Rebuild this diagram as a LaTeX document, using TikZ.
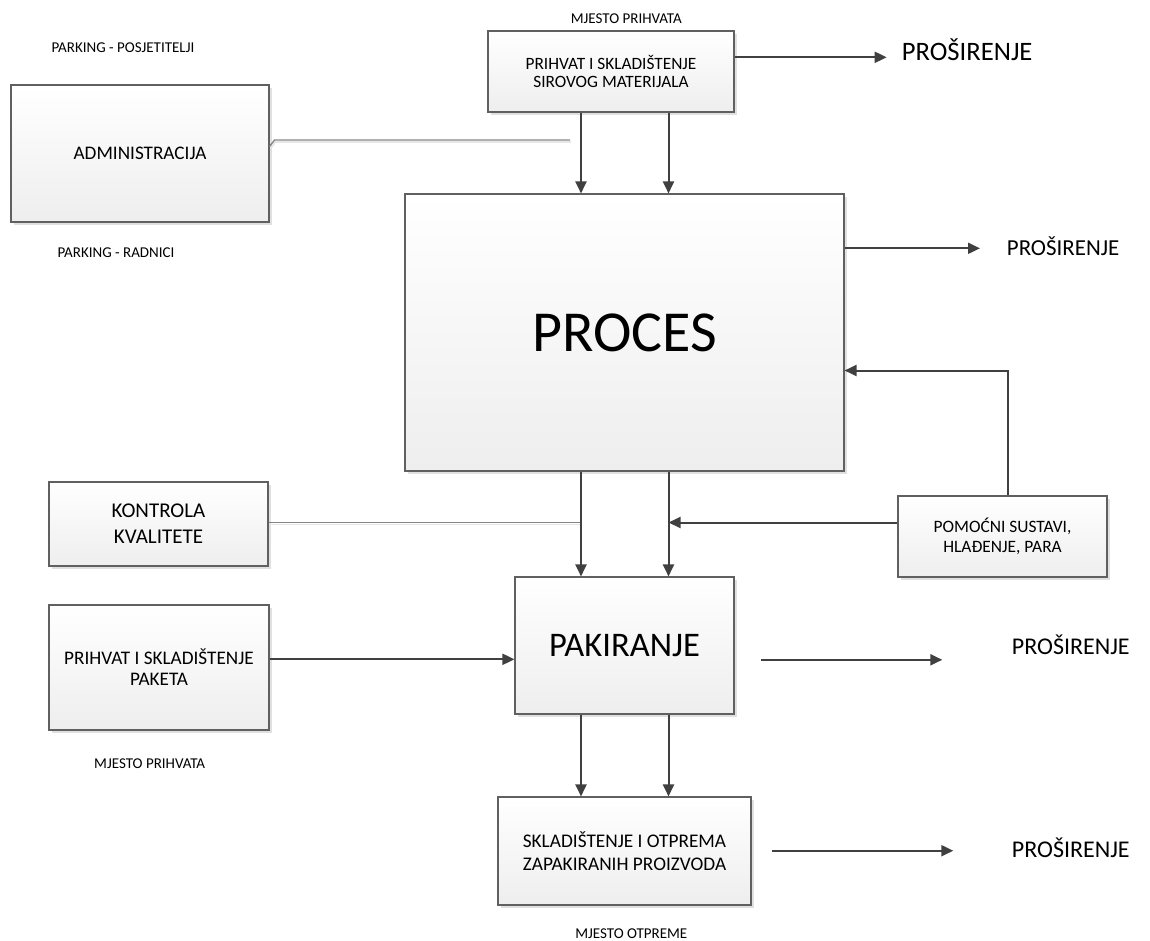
\documentclass[tikz,border=0pt]{standalone}
\usepackage{fontspec}
\setmainfont{Carlito}
\usetikzlibrary{arrows.meta,shadows}
\definecolor{arrgray}{HTML}{404040}
\definecolor{boxline}{HTML}{606060}
\definecolor{thingray}{HTML}{858585}
\definecolor{shadegray}{HTML}{E6E6E6}
\definecolor{boxbottom}{HTML}{EEEEEE}
\tikzset{
  box/.style={draw=boxline, line width=1.1pt, top color=white, bottom color=boxbottom,
    inner sep=2pt, align=center,
    drop shadow={shadow xshift=3pt, shadow yshift=-3pt, fill=black!12, opacity=1}},
  arr/.style={draw=arrgray, line width=2pt, -{Triangle[length=12pt,width=11pt]}},
  conn/.style={draw=thingray, line width=1.4pt},
  connshadow/.style={draw=shadegray, line width=1.6pt, transform canvas={xshift=1pt,yshift=-2pt}},
  lbl/.style={inner sep=0pt, anchor=base, font=\fontsize{15}{18}\selectfont},
  ext/.style={inner sep=0pt, anchor=base west},
}
\begin{document}
\begin{tikzpicture}[x=1pt,y=-1pt]
\useasboundingbox (0,0) rectangle (1150,940);

% boxes
\node[box, minimum width=246pt, minimum height=81pt, font=\fontsize{17.3}{18.4}\selectfont] (raw) at (611,71.5) {PRIHVAT I SKLADIŠTENJE\\SIROVOG MATERIJALA};
\node[box, minimum width=258pt, minimum height=137pt, font=\fontsize{19.2}{23}\selectfont] (admin) at (140,153.5) {ADMINISTRACIJA};
\node[box, minimum width=439pt, minimum height=277pt, font=\fontsize{58}{64}\selectfont] (proces) at (624.5,332.5) {PROCES};
\node[box, minimum width=219pt, minimum height=84pt, font=\fontsize{21}{26}\selectfont] (kontrola) at (158.5,524) {KONTROLA\\KVALITETE};
\node[box, minimum width=209pt, minimum height=81pt, font=\fontsize{17.4}{20}\selectfont] (pomocni) at (1002.5,536.5) {POMOĆNI SUSTAVI,\\HLAĐENJE, PARA};
\node[box, minimum width=219pt, minimum height=137pt, font=\fontsize{34.5}{40}\selectfont] (pakiranje) at (624.5,645.5) {PAKIRANJE};
\node[box, minimum width=220pt, minimum height=125pt, font=\fontsize{19.2}{21}\selectfont] (paketa) at (159,667.5) {PRIHVAT I SKLADIŠTENJE\\PAKETA};
\node[box, minimum width=253pt, minimum height=108pt, font=\fontsize{19.3}{23.3}\selectfont] (otprema) at (624.5,851) {SKLADIŠTENJE I OTPREMA\\ZAPAKIRANIH PROIZVODA};

% labels
\node[lbl] (lmp1) at (626.3,23.1) {MJESTO PRIHVATA};
\node[lbl] (lpp) at (123,52.8) {PARKING - POSJETITELJI};
\node[lbl] (lpr) at (116,257.8) {PARKING - RADNICI};
\node[lbl] (lmp2) at (149.7,768.1) {MJESTO PRIHVATA};
\node[lbl] (lmo) at (631.3,938.1) {MJESTO OTPREME};

\node[ext, font=\fontsize{26.6}{30}\selectfont] (pros1) at (901.7,60.3) {PROŠIRENJE};
\node[ext, font=\fontsize{22.9}{26}\selectfont] (pros2) at (1006.7,255.7) {PROŠIRENJE};
\node[ext, font=\fontsize{24}{28}\selectfont] (pros3) at (1011.7,654.4) {PROŠIRENJE};
\node[ext, font=\fontsize{24}{28}\selectfont] (pros4) at (1011.7,857.7) {PROŠIRENJE};

% helper coordinates
\coordinate (colA) at (581,0);
\coordinate (colB) at (668.5,0);
\coordinate (colC) at (1008.3,0);
\coordinate (rowA) at (0,146.5);
\coordinate (rowP) at (0,370.5);
\coordinate (rowQ) at (0,522.5);
\coordinate (rowR) at (0,659.3);
\coordinate (rowT) at (0,57.3);
\coordinate (rowU) at (0,248.3);
\coordinate (aend) at (570,140);
\coordinate (e1) at (886.7,57.3);
\coordinate (e2) at (980,248.3);
\coordinate (s3) at (761,659.8);
\coordinate (e3) at (942.3,659.8);
\coordinate (s4) at (771.7,850.7);
\coordinate (e4) at (953.3,850.7);

% thin connectors
\draw[connshadow] (admin.east |- rowA) -- ++(5,-6.5) -- (aend);
\draw[conn] (admin.east |- rowA) -- ++(5,-6.5) -- (aend);
\draw[connshadow] (kontrola.east |- rowQ) -- (colA |- rowQ);
\draw[conn] (kontrola.east |- rowQ) -- (colA |- rowQ);

% arrows
\draw[arr] (raw.south -| colA) -- (proces.north -| colA);
\draw[arr] (raw.south -| colB) -- (proces.north -| colB);
\draw[arr] (proces.south -| colA) -- (pakiranje.north -| colA);
\draw[arr] (proces.south -| colB) -- (pakiranje.north -| colB);
\draw[arr] (pakiranje.south -| colA) -- (otprema.north -| colA);
\draw[arr] (pakiranje.south -| colB) -- (otprema.north -| colB);
\draw[arr] (pomocni.north -| colC) -- (colC |- rowP) -- (proces.east |- rowP);
\draw[arr] (pomocni.west |- rowQ) -- (colB |- rowQ);
\draw[arr] (paketa.east |- rowR) -- (pakiranje.west |- rowR);
\draw[arr] (raw.east |- rowT) -- (e1);
\draw[arr] (proces.east |- rowU) -- (e2);
\draw[arr] (s3) -- (e3);
\draw[arr] (s4) -- (e4);
\end{tikzpicture}
\end{document}
